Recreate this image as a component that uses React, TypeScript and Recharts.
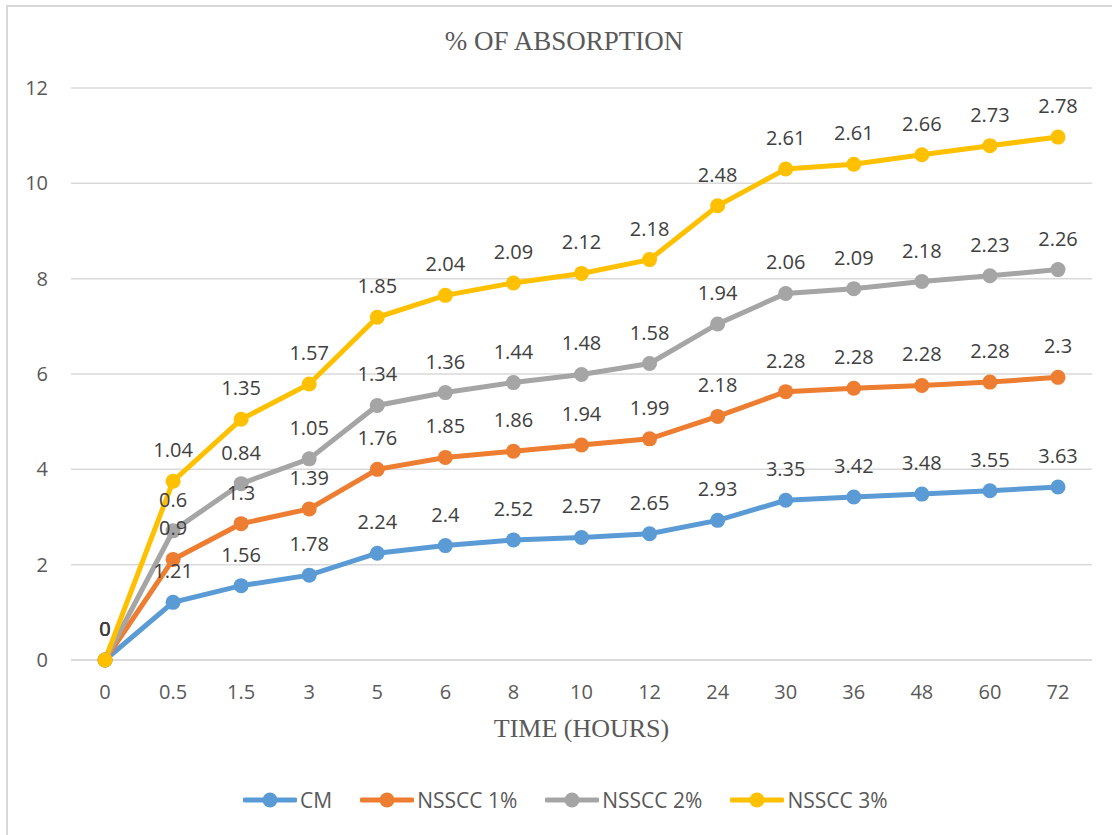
import React from 'react'
import { ComposedChart, Area, XAxis, YAxis, CartesianGrid, Legend, LabelList, Label } from 'recharts'

// Absorption per interval, stacked (each series sits on top of the previous one)
const hours = ['0', '0.5', '1.5', '3', '5', '6', '8', '10', '12', '24', '30', '36', '48', '60', '72']
const cm = [0, 1.21, 1.56, 1.78, 2.24, 2.4, 2.52, 2.57, 2.65, 2.93, 3.35, 3.42, 3.48, 3.55, 3.63]
const nsscc1 = [0, 0.9, 1.3, 1.39, 1.76, 1.85, 1.86, 1.94, 1.99, 2.18, 2.28, 2.28, 2.28, 2.28, 2.3]
const nsscc2 = [0, 0.6, 0.84, 1.05, 1.34, 1.36, 1.44, 1.48, 1.58, 1.94, 2.06, 2.09, 2.18, 2.23, 2.26]
const nsscc3 = [0, 1.04, 1.35, 1.57, 1.85, 2.04, 2.09, 2.12, 2.18, 2.48, 2.61, 2.61, 2.66, 2.73, 2.78]
const yTicks = [0, 2, 4, 6, 8, 10, 12]

const series = [
  { key: 'cm', name: 'CM', color: '#5B9BD5' },
  { key: 'n1', name: 'NSSCC 1%', color: '#ED7D31' },
  { key: 'n2', name: 'NSSCC 2%', color: '#A5A5A5' },
  { key: 'n3', name: 'NSSCC 3%', color: '#FFC000' },
]

const data = hours.map((h, i) => ({ h, cm: cm[i], n1: nsscc1[i], n2: nsscc2[i], n3: nsscc3[i] }))

const SANS = '"Open Sans", sans-serif'
const SERIF = '"Liberation Serif", "Times New Roman", serif'

function LegendContent() {
  return (
    <div style={{ display: 'flex', alignItems: 'center', height: 40, fontFamily: SANS, fontSize: 21, color: '#595959' }}>
      {series.map((s) => (
        <div key={s.key} style={{ display: 'flex', alignItems: 'center', marginRight: 28 }}>
          <svg width={54} height={20}>
            <line x1={2} y1={10} x2={52} y2={10} stroke={s.color} strokeWidth={5} strokeLinecap="round" />
            <circle cx={27} cy={10} r={7.5} fill={s.color} />
          </svg>
          <span style={{ marginLeft: 3 }}>{s.name}</span>
        </div>
      ))}
    </div>
  )
}

const makeDot = (color: string) => (p: any) =>
  p.cx == null || p.cy == null ? null : <circle key={`d-${p.index}`} cx={p.cx} cy={p.cy} r={7.5} fill={color} />

export default function App() {
  return (
    <div style={{ position: 'absolute', left: 0, top: 0, width: 1112, height: 835, overflow: 'hidden', background: '#fff' }}>
      <div style={{ position: 'absolute', left: 6, top: 5, width: 2000, height: 2000, border: '2px solid #d9d9d9' }} />
      <div style={{ position: 'absolute', left: 0, top: 0 }}>
        <ComposedChart width={1112} height={835} data={data} margin={{ top: 88, right: 20, bottom: 35, left: 0 }}>
          <text x={564} y={50} textAnchor="middle" fontFamily={SERIF} fontSize={27} fill="#595959">
            % OF ABSORPTION
          </text>
          <CartesianGrid vertical={false} stroke="#d9d9d9" strokeWidth={1.5} />
          <XAxis
            dataKey="h"
            height={100}
            padding={{ left: 34, right: 34 }}
            tickSize={0}
            tickMargin={25}
            stroke="#d9d9d9"
            strokeWidth={1.5}
            tick={{ fill: '#595959', fontSize: 20, fontFamily: SANS }}
          >
            <Label value="TIME (HOURS)" position="insideBottom" offset={23} fill="#595959" fontSize={26} fontFamily={SERIF} />
          </XAxis>
          <YAxis
            width={71}
            domain={[0, 12]}
            ticks={yTicks}
            axisLine={false}
            tickLine={false}
            tickSize={0}
            tickMargin={23}
            tick={{ fill: '#595959', fontSize: 20, fontFamily: SANS }}
          />
          <Legend content={<LegendContent />} wrapperStyle={{ left: 243, bottom: 15, width: 'auto' }} />
          {series.map((s) => (
            <Area
              key={s.key}
              type="linear"
              dataKey={s.key}
              name={s.name}
              stackId="a"
              stroke={s.color}
              strokeWidth={5}
              fill="none"
              fillOpacity={0}
              dot={makeDot(s.color)}
              activeDot={false}
              isAnimationActive={false}
            >
              <LabelList dataKey={s.key} position="top" offset={24} fill="#404040" fontSize={20} fontFamily={SANS} />
            </Area>
          ))}
        </ComposedChart>
      </div>
    </div>
  )
}
